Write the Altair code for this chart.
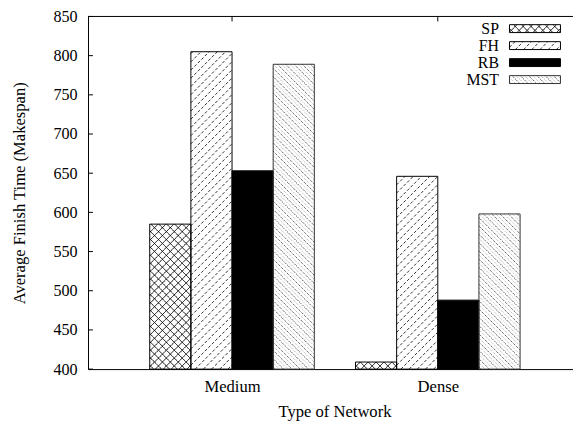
import json
import altair as alt
import pandas as pd

# ---------------- data ----------------
categories = ["Medium", "Dense"]
series_names = ["SP", "FH", "RB", "MST"]
sp_vals = [585, 409]
fh_vals = [805, 646]
rb_vals = [653, 488]
mst_vals = [789, 598]
y_ticks = [400, 450, 500, 550, 600, 650, 700, 750, 800, 850]

values_by_series = {"SP": sp_vals, "FH": fh_vals, "RB": rb_vals, "MST": mst_vals}

# ---------------- layout / style ----------------
FONT = "Liberation Serif"
PLOT_W, PLOT_H = 491, 357
PAD_L, PAD_T, PAD_B = 81, 6, 52
SX = 208.3                      # px per category unit
XMIN = -0.7
XMAX = XMIN + PLOT_W / SX
YMIN, YMAX = 400, 850
SY = PLOT_H / (YMAX - YMIN)     # px per value unit
BAR_W = 0.2

fill_colors = ["white", "white", "black", "white"]
border_colors = ["black", "black", "black", "#333333"]
border_dash = [[1, 0], [4, 2], [1, 0], [1, 1.5]]
# hatch definitions: (direction, spacing px, style)
hatch_def = {
    "SP": [("/", 8.0, "cross"), ("\\", 8.0, "cross")],
    "FH": [("/", 8.3, "fh")],
    "RB": [],
    "MST": [("\\", 4.2, "mst")],
}
style_domain = ["cross", "fh", "mstA", "mstB"]
style_colors = ["black", "#303030", "#202020", "#a8a8a8"]
style_dash = [[1, 0], [3, 2], [1, 1.2], [1, 1.2]]

# legend layout (page pixels)
LEG_KEY_X0, LEG_KEY_X1 = 515.7, 567.3
LEG_TEXT_X = 505
LEG_ROW0, LEG_ROW_STEP, LEG_KEY_H = 26.3, 17.2, 8
PLOT_X0_PAGE, PLOT_Y0_PAGE = 8 + PAD_L, 8 + PAD_T


def px_to_x(px):
    return XMIN + (px - PLOT_X0_PAGE) / SX


def py_to_y(py):
    return YMAX - (py - PLOT_Y0_PAGE) / SY


# ---------------- tables built from the data ----------------
rect_rows = []
for ci, cat in enumerate(categories):
    for si, s in enumerate(series_names):
        xl = ci - 2 * BAR_W + si * BAR_W
        rect_rows.append(dict(series=s, xl=xl, xr=xl + BAR_W, yb=YMIN,
                              yt=values_by_series[s][ci], kind="bar"))
legend_rows = []
for si, s in enumerate(series_names):
    cy = LEG_ROW0 + si * LEG_ROW_STEP
    rect_rows.append(dict(series=s, xl=px_to_x(LEG_KEY_X0), xr=px_to_x(LEG_KEY_X1),
                          yb=py_to_y(cy + LEG_KEY_H / 2), yt=py_to_y(cy - LEG_KEY_H / 2),
                          kind="legend"))
    legend_rows.append(dict(series=s, tx=px_to_x(LEG_TEXT_X), ty=py_to_y(cy + 5)))
rects = pd.DataFrame(rect_rows)
legend_df = pd.DataFrame(legend_rows)


def hatch_segments(xl, xr, yb, yt, direction, step):
    W = (xr - xl) * SX
    H = (yt - yb) * SY
    out = []
    if direction == "/":
        c = -W + step / 2
        while c < H:
            u0, u1 = max(0.0, -c), min(W, H - c)
            if u1 - u0 > 0.3:
                out.append((u0, u0 + c, u1, u1 + c))
            c += step
    else:
        c = step / 2
        while c < H + W:
            u0, u1 = max(0.0, c - H), min(W, c)
            if u1 - u0 > 0.3:
                out.append((u0, c - u0, u1, c - u1))
            c += step
    return [(xl + a / SX, yb + b / SY, xl + d / SX, yb + e / SY) for a, b, d, e in out]


hrows = []
for r in rect_rows:
    for direction, step, style in hatch_def[r["series"]]:
        segs = hatch_segments(r["xl"], r["xr"], r["yb"], r["yt"], direction, step)
        for k, (x, y, x2, y2) in enumerate(segs):
            st = style if style != "mst" else ("mstA" if k % 2 == 0 else "mstB")
            hrows.append(dict(x=x, y=y, x2=x2, y2=y2, style=st))
hatch_df = pd.DataFrame(hrows)

xs = alt.Scale(domain=[XMIN, XMAX], nice=False, zero=False)
ys = alt.Scale(domain=[YMIN, YMAX], nice=False, zero=False)

x_axis = alt.Axis(
    values=list(range(len(categories))),
    labelExpr=json.dumps(categories) + "[datum.value]",
    title="Type of Network", ticks=False, grid=False,
    domainColor="black", domainWidth=1,
    labelFont=FONT, labelFontSize=16.8, labelColor="black",
    labelBaseline="alphabetic", labelPadding=23,
    titleFont=FONT, titleFontSize=16.8, titleFontWeight="normal", titleColor="black",
    titleX=338.5 - PLOT_X0_PAGE, titleY=48, titleBaseline="alphabetic", titleAlign="center",
)
y_axis = alt.Axis(
    values=y_ticks, ticks=False, grid=False,
    domainColor="black", domainWidth=1,
    labelFont=FONT, labelFontSize=16.3, labelColor="black", labelPadding=11,
    labelBaseline="alphabetic", labelOffset=5,
    title="Average Finish Time (Makespan)",
    titleFont=FONT, titleFontSize=16.8, titleFontWeight="normal", titleColor="black",
    titleAngle=270, titleX=24.5 - PLOT_X0_PAGE, titleY=PLOT_H / 2,
    titleBaseline="alphabetic", titleAlign="center",
)


def X(field):
    return alt.X(field, scale=xs, axis=x_axis)


def Y(field):
    return alt.Y(field, scale=ys, axis=y_axis)


fills = alt.Chart(rects).mark_rect(strokeOpacity=0).encode(
    x=X("xl:Q"), x2="xr:Q", y=Y("yb:Q"), y2="yt:Q",
    fill=alt.Fill("series:N", scale=alt.Scale(domain=series_names, range=fill_colors), legend=None),
)

hatch = alt.Chart(hatch_df).mark_rule(strokeWidth=1).encode(
    x=X("x:Q"), x2="x2:Q", y=Y("y:Q"), y2="y2:Q",
    color=alt.Color("style:N", scale=alt.Scale(domain=style_domain, range=style_colors), legend=None),
    strokeDash=alt.StrokeDash("style:N", scale=alt.Scale(domain=style_domain, range=style_dash), legend=None),
)

borders = alt.Chart(rects).mark_rect(fillOpacity=0, strokeWidth=1).encode(
    x=X("xl:Q"), x2="xr:Q", y=Y("yb:Q"), y2="yt:Q",
    stroke=alt.Stroke("series:N", scale=alt.Scale(domain=series_names, range=border_colors), legend=None),
    strokeDash=alt.StrokeDash("series:N", scale=alt.Scale(domain=series_names, range=border_dash), legend=None),
)

legend_text = alt.Chart(legend_df).mark_text(
    align="right", baseline="alphabetic", font=FONT, fontSize=16, color="black"
).encode(x=X("tx:Q"), y=Y("ty:Q"), text="series:N")

one = pd.DataFrame({"a": [0]})
top_line = alt.Chart(one).mark_rule(color="black", strokeWidth=1).encode(
    x=alt.value(0), x2=alt.value(PLOT_W), y=alt.value(0)
)
top_ticks = alt.Chart(pd.DataFrame({"pos": list(range(len(categories)))})).mark_rule(
    color="black", strokeWidth=1
).encode(x=X("pos:Q"), y=alt.value(0), y2=alt.value(5))
left_ticks = alt.Chart(pd.DataFrame({"t": y_ticks})).mark_rule(color="black", strokeWidth=1).encode(
    y=Y("t:Q"), x=alt.value(0), x2=alt.value(5)
)

chart = (
    alt.layer(fills, hatch, borders, legend_text, top_line, top_ticks, left_ticks)
    .resolve_scale(strokeDash="independent")
    .properties(
        width=PLOT_W, height=PLOT_H,
        autosize=alt.AutoSizeParams(type="none"),
        padding={"left": PAD_L, "top": PAD_T, "right": 0, "bottom": PAD_B},
        background="white",
    )
    .configure_view(stroke="transparent")
)

chart.save("out.html", embed_options={"renderer": "svg", "actions": False})
